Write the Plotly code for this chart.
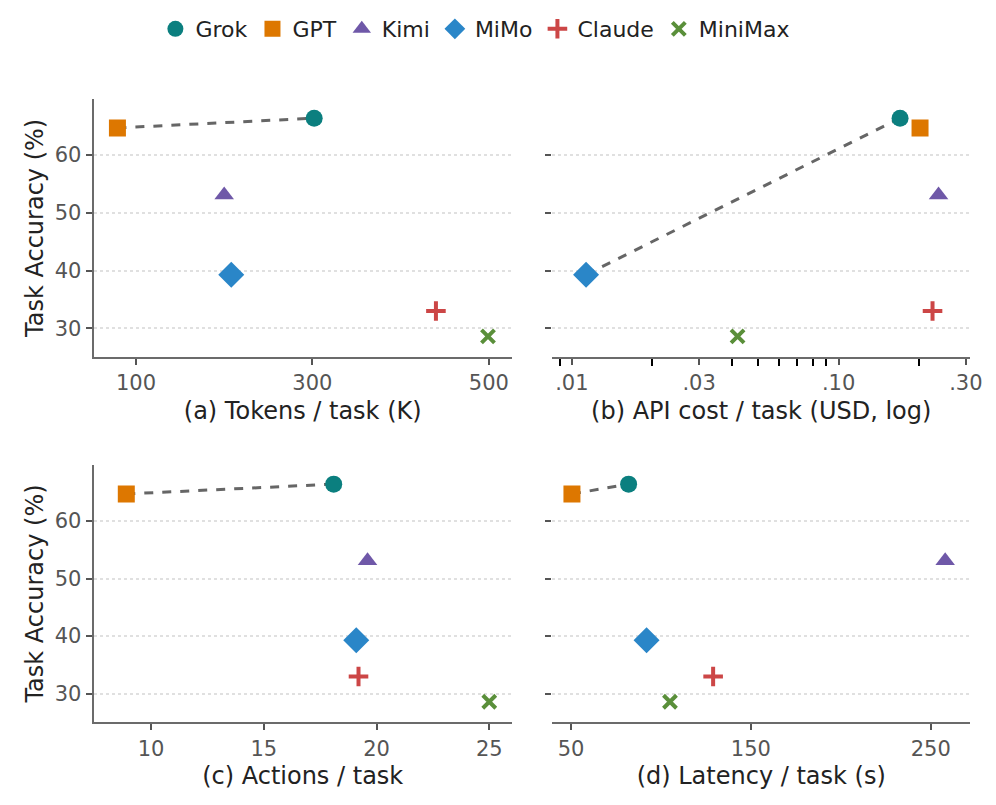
import numpy as np
import plotly.graph_objects as go
from plotly.subplots import make_subplots

models = ["Grok", "GPT", "Kimi", "MiMo", "Claude", "MiniMax"]
accuracy = [66.4, 64.7, 53.1, 39.3, 33.0, 28.6]
tokens_k = [302, 79, 200, 208, 440, 499]
cost_usd = [0.170, 0.202, 0.237, 0.0113, 0.225, 0.0418]
actions = [18.1, 8.9, 19.6, 19.1, 19.2, 25.0]
latency_s = [82, 50.5, 258, 92, 129, 105]

colors = ["#0b7f7f", "#dd7700", "#6f58a8", "#2a86c8", "#cc4646", "#5a8f3a"]
symbols = ["circle", "square", "triangle-up", "diamond", "cross-thin", "x-thin"]
sizes = [17, 17, 17, 20, 14, 13]

# pareto pairs per panel (indices into models)
fronts = [[1, 0], [3, 0], [1, 0], [1, 0]]
xdata = [tokens_k, cost_usd, actions, latency_s]
titles = ["(a) Tokens / task (K)", "(b) API cost / task (USD, log)",
          "(c) Actions / task", "(d) Latency / task (s)"]

fig = make_subplots(rows=2, cols=2)
pos = [(1, 1), (1, 2), (2, 1), (2, 2)]
for p, (r, c) in enumerate(pos):
    xs = xdata[p]
    fr = fronts[p]
    fig.add_trace(go.Scatter(
        x=[xs[i] for i in fr], y=[accuracy[i] for i in fr], mode="lines",
        line=dict(color="#666666", width=3, dash="dash"), showlegend=False,
        hoverinfo="skip"), row=r, col=c)
    for i, m in enumerate(models):
        sym = symbols[i]
        mk = dict(color=colors[i], symbol=sym, size=sizes[i])
        if sym.endswith("thin"):
            mk["line"] = dict(color=colors[i], width=4)
        fig.add_trace(go.Scatter(
            x=[xs[i]], y=[accuracy[i]], mode="markers", marker=mk, name=m,
            showlegend=(p == 0)), row=r, col=c)

xdom = [[0.087, 0.512], [0.553, 0.978]]
ydom = [[0.569, 0.892], [0.113, 0.435]]
axis_common = dict(showline=True, linecolor="#6b6b6b", linewidth=2, ticks="outside",
                   tickcolor="#555555", ticklen=6, tickwidth=2, showgrid=False,
                   zeroline=False, tickfont=dict(size=21, color="#555555"))
xranges = [[52, 526], None, [7.45, 26.0], [39.5, 272]]
xticks = [[100, 300, 500], None, [10, 15, 20, 25], [50, 150, 250]]
for p, (r, c) in enumerate(pos):
    kw = dict(axis_common, domain=xdom[c - 1],
              title=dict(text=titles[p], font=dict(size=24, color="#222222"), standoff=8))
    if p == 1:
        kw.update(type="log", range=[-2.074, -0.506],
                  tickvals=[0.01, 0.03, 0.1, 0.3], ticktext=[".01", ".03", ".10", ".30"],
                  minor=dict(tickvals=[0.009, 0.02, 0.04, 0.05, 0.06, 0.07, 0.08, 0.09, 0.2],
                             ticks="outside", ticklen=7, tickwidth=2, tickcolor="black"))
    else:
        kw.update(range=xranges[p], tickvals=xticks[p])
    fig.update_xaxes(row=r, col=c, **kw)
    ykw = dict(axis_common, domain=ydom[r - 1], range=[25, 69.8],
               tickvals=[30, 40, 50, 60], showgrid=True, gridcolor="#e0e0e0",
               griddash="dot", gridwidth=1.5)
    if c == 1:
        ykw["title"] = dict(text="Task Accuracy (%)", font=dict(size=24, color="#222222"),
                            standoff=4)
    else:
        ykw.update(showticklabels=False, showline=False)
    fig.update_yaxes(row=r, col=c, **ykw)

fig.update_layout(
    width=996, height=805, margin=dict(l=0, r=0, t=0, b=0),
    paper_bgcolor="white", plot_bgcolor="white",
    font=dict(family="DejaVu Sans", color="#222222"),
    legend=dict(orientation="h", x=0.475, xanchor="center", y=1.005, yanchor="top",
                font=dict(size=22), itemwidth=30, tracegroupgap=0),
)
fig.write_html("out.html")
